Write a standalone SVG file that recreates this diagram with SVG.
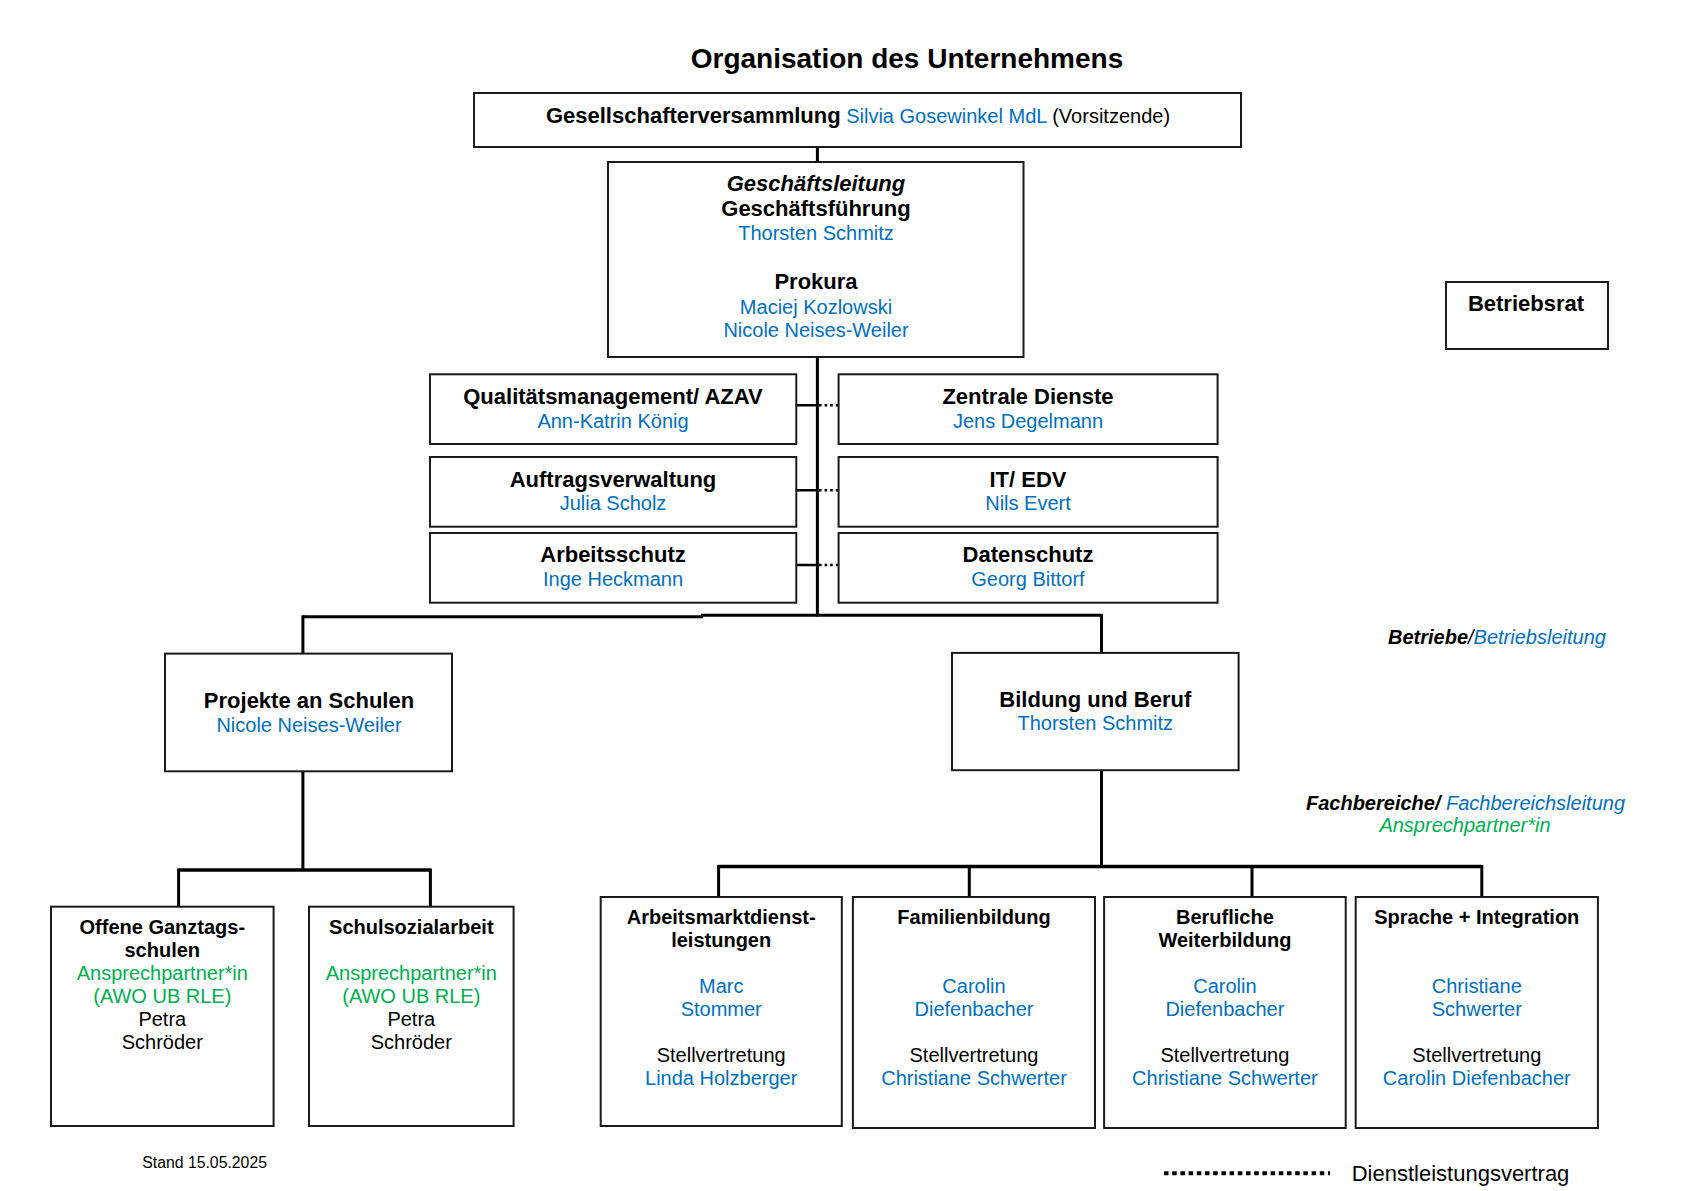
<svg xmlns="http://www.w3.org/2000/svg" width="1684" height="1191" viewBox="0 0 1684 1191">
<style>
text { font-family: "Liberation Sans", Arial, Helvetica, sans-serif; fill: #000; font-size: 20px; }
.c { text-anchor: middle; }
.b { font-weight: bold; }
.i { font-style: italic; }
.h22 { font-size: 22px; }
.blue { fill: #0070C0; }
.green { fill: #00B050; }
.box { fill: #fff; stroke: #1a1a1a; stroke-width: 2; }
.line { fill: none; stroke: #000; stroke-width: 3; }
.thick { fill: none; stroke: #000; stroke-width: 3.5; }
.solid { fill: none; stroke: #000; stroke-width: 2.6; }
.dot { fill: none; stroke: #000; stroke-width: 2.6; stroke-dasharray: 2.6 3; }
.legend { fill: none; stroke: #000; stroke-width: 4; stroke-dasharray: 4.5 3.7; }
</style>

<text x="907" y="68" class="c b" style="font-size:28px">Organisation des Unternehmens</text>

<g id="connectors">
  <path class="line" d="M817.4,147 V162"/>
  <path class="line" d="M817.4,357 V616.5"/>
  <path class="solid" d="M796.3,405.3 H817.4 M796.3,490.3 H817.4 M796.3,565 H817.4"/>
  <path class="dot" d="M819,405.3 H838.6 M819,490.3 H838.6 M819,565 H838.6"/>
  <path class="line" d="M302.9,616.7 H703"/>
  <path class="line" d="M701,615.3 H1102"/>
  <path class="line" d="M302.9,615.3 V653.6"/>
  <path class="line" d="M1101.5,614 V652.9"/>
  <path class="line" d="M302.9,771.3 V870"/>
  <path class="thick" d="M178.6,870 H430.4"/>
  <path class="line" d="M178.6,868.5 V906.7 M430.4,868.5 V906.7"/>
  <path class="line" d="M1101.5,770.2 V866.4"/>
  <path class="thick" d="M718.6,866.4 H1481.8"/>
  <path class="line" d="M718.6,865 V897 M969.3,865 V897 M1252,865 V897 M1481.8,865 V897"/>
</g>

<g id="gesellschafterversammlung">
  <rect class="box" x="474" y="93" width="767" height="54"/>
  <text x="858" y="122.5" class="c"><tspan class="b h22">Gesellschafterversammlung</tspan> <tspan class="blue">Silvia Gosewinkel MdL</tspan> (Vorsitzende)</text>
</g>

<g id="geschaeftsleitung">
  <rect class="box" x="608" y="162" width="415.5" height="195"/>
  <text x="816" y="191" class="c b i h22">Geschäftsleitung</text>
  <text x="816" y="216" class="c b h22">Geschäftsführung</text>
  <text x="816" y="239.5" class="c blue">Thorsten Schmitz</text>
  <text x="816" y="289" class="c b h22">Prokura</text>
  <text x="816" y="313.5" class="c blue">Maciej Kozlowski</text>
  <text x="816" y="336.5" class="c blue">Nicole Neises-Weiler</text>
</g>

<g id="betriebsrat">
  <rect class="box" x="1446" y="282" width="162" height="67"/>
  <text x="1526" y="311" class="c b h22">Betriebsrat</text>
</g>

<g id="qualitaetsmanagement">
  <rect class="box" x="430" y="374.3" width="366.3" height="69.7"/>
  <text x="613" y="403.8" class="c b h22">Qualitätsmanagement/ AZAV</text>
  <text x="613" y="427.5" class="c blue">Ann-Katrin König</text>
</g>
<g id="zentrale-dienste">
  <rect class="box" x="838.6" y="374.3" width="379" height="69.7"/>
  <text x="1028" y="403.8" class="c b h22">Zentrale Dienste</text>
  <text x="1028" y="427.5" class="c blue">Jens Degelmann</text>
</g>
<g id="auftragsverwaltung">
  <rect class="box" x="430" y="457" width="366.3" height="69.7"/>
  <text x="613" y="486.5" class="c b h22">Auftragsverwaltung</text>
  <text x="613" y="509.5" class="c blue">Julia Scholz</text>
</g>
<g id="it-edv">
  <rect class="box" x="838.6" y="457" width="379" height="69.7"/>
  <text x="1028" y="486.5" class="c b h22">IT/ EDV</text>
  <text x="1028" y="509.5" class="c blue">Nils Evert</text>
</g>
<g id="arbeitsschutz">
  <rect class="box" x="430" y="533" width="366.3" height="69.7"/>
  <text x="613" y="562" class="c b h22">Arbeitsschutz</text>
  <text x="613" y="586" class="c blue">Inge Heckmann</text>
</g>
<g id="datenschutz">
  <rect class="box" x="838.6" y="533" width="379" height="69.7"/>
  <text x="1028" y="562" class="c b h22">Datenschutz</text>
  <text x="1028" y="586" class="c blue">Georg Bittorf</text>
</g>

<g id="label-betriebe">
  <text x="1388" y="643.5" class="i"><tspan class="b">Betriebe</tspan>/<tspan class="blue">Betriebsleitung</tspan></text>
</g>

<g id="projekte-an-schulen">
  <rect class="box" x="165" y="653.6" width="287" height="117.7"/>
  <text x="309" y="708" class="c b h22">Projekte an Schulen</text>
  <text x="309" y="732" class="c blue">Nicole Neises-Weiler</text>
</g>
<g id="bildung-und-beruf">
  <rect class="box" x="952" y="652.9" width="286.6" height="117.3"/>
  <text x="1095.3" y="707.3" class="c b h22">Bildung und Beruf</text>
  <text x="1095.3" y="730.2" class="c blue">Thorsten Schmitz</text>
</g>

<g id="label-fachbereiche">
  <text x="1465.5" y="809.5" class="c i"><tspan class="b">Fachbereiche/</tspan> <tspan class="blue">Fachbereichsleitung</tspan></text>
  <text x="1465" y="832" class="c i green">Ansprechpartner*in</text>
</g>

<g id="offene-ganztagsschulen">
  <rect class="box" x="51" y="906.7" width="222.6" height="219.3"/>
  <text x="162.3" y="934" class="c b">Offene Ganztags-</text>
  <text x="162.3" y="957" class="c b">schulen</text>
  <text x="162.3" y="980" class="c green">Ansprechpartner*in</text>
  <text x="162.3" y="1003" class="c green">(AWO UB RLE)</text>
  <text x="162.3" y="1026" class="c">Petra</text>
  <text x="162.3" y="1049" class="c">Schröder</text>
</g>
<g id="schulsozialarbeit">
  <rect class="box" x="309" y="906.7" width="204.6" height="219.3"/>
  <text x="411.3" y="934" class="c b">Schulsozialarbeit</text>
  <text x="411.3" y="980" class="c green">Ansprechpartner*in</text>
  <text x="411.3" y="1003" class="c green">(AWO UB RLE)</text>
  <text x="411.3" y="1026" class="c">Petra</text>
  <text x="411.3" y="1049" class="c">Schröder</text>
</g>

<g id="arbeitsmarktdienstleistungen">
  <rect class="box" x="600.7" y="897" width="241.1" height="229"/>
  <text x="721.2" y="924" class="c b">Arbeitsmarktdienst-</text>
  <text x="721.2" y="947" class="c b">leistungen</text>
  <text x="721.2" y="993" class="c blue">Marc</text>
  <text x="721.2" y="1016" class="c blue">Stommer</text>
  <text x="721.2" y="1062" class="c">Stellvertretung</text>
  <text x="721.2" y="1085" class="c blue">Linda Holzberger</text>
</g>
<g id="familienbildung">
  <rect class="box" x="852.9" y="897" width="242.1" height="231"/>
  <text x="974" y="924" class="c b">Familienbildung</text>
  <text x="974" y="993" class="c blue">Carolin</text>
  <text x="974" y="1016" class="c blue">Diefenbacher</text>
  <text x="974" y="1062" class="c">Stellvertretung</text>
  <text x="974" y="1085" class="c blue">Christiane Schwerter</text>
</g>
<g id="berufliche-weiterbildung">
  <rect class="box" x="1104.1" y="897" width="241.6" height="231"/>
  <text x="1224.9" y="924" class="c b">Berufliche</text>
  <text x="1224.9" y="947" class="c b">Weiterbildung</text>
  <text x="1224.9" y="993" class="c blue">Carolin</text>
  <text x="1224.9" y="1016" class="c blue">Diefenbacher</text>
  <text x="1224.9" y="1062" class="c">Stellvertretung</text>
  <text x="1224.9" y="1085" class="c blue">Christiane Schwerter</text>
</g>
<g id="sprache-integration">
  <rect class="box" x="1355.7" y="897" width="242.2" height="231"/>
  <text x="1476.8" y="924" class="c b">Sprache + Integration</text>
  <text x="1476.8" y="993" class="c blue">Christiane</text>
  <text x="1476.8" y="1016" class="c blue">Schwerter</text>
  <text x="1476.8" y="1062" class="c">Stellvertretung</text>
  <text x="1476.8" y="1085" class="c blue">Carolin Diefenbacher</text>
</g>

<text x="204.6" y="1168" class="c" style="font-size:15.8px">Stand 15.05.2025</text>

<g id="legend">
  <path class="legend" d="M1164,1173.3 H1330"/>
  <text x="1351.7" y="1180.5" class="h22">Dienstleistungsvertrag</text>
</g>
</svg>
